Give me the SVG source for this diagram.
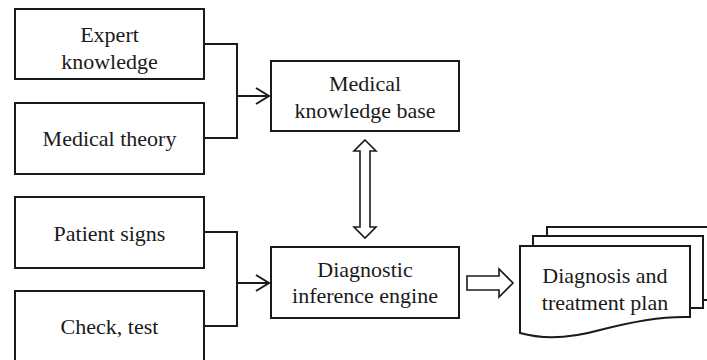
<svg xmlns="http://www.w3.org/2000/svg" width="707" height="360" viewBox="0 0 707 360">
<defs>
<style>
.box{fill:#fff;stroke:#1a1a1a;stroke-width:2}
.t{font-family:"Liberation Serif","Times New Roman",serif;font-size:22px;fill:#1a1a1a;text-anchor:middle}
.ln{fill:none;stroke:#1a1a1a;stroke-width:2}
.blk{fill:#fff;stroke:#1a1a1a;stroke-width:1.6;stroke-linejoin:miter}
</style>
<marker id="chev" markerWidth="16" markerHeight="18" refX="14" refY="9" orient="auto" markerUnits="userSpaceOnUse">
<polyline points="1,1 14,9 1,17" fill="none" stroke="#1a1a1a" stroke-width="2"/>
</marker>
</defs>
<rect width="707" height="360" fill="#fff"/>
<g id="connectors">
<path class="ln" d="M204,44 H237 V138 H204"/>
<path class="ln" d="M237,96 H269" marker-end="url(#chev)"/>
<path class="ln" d="M204,232 H237 V326 H204"/>
<path class="ln" d="M237,283 H269" marker-end="url(#chev)"/>
<polygon class="blk" points="365,140 376,151 370,151 370,227 376,227 365,238 354,227 360,227 360,151 354,151"/>
<polygon class="blk" points="467,276 499,276 499,269 513,283 499,297 499,290 467,290"/>
</g>
<g id="expert">
<rect class="box" x="15" y="9" width="189" height="70"/>
<text class="t" x="109.5" y="42">Expert</text>
<text class="t" x="109.5" y="69">knowledge</text>
</g>
<g id="theory">
<rect class="box" x="15" y="103" width="189" height="71"/>
<text class="t" x="109.5" y="146">Medical theory</text>
</g>
<g id="kb">
<rect class="box" x="271" y="61" width="188" height="70"/>
<text class="t" x="365" y="91">Medical</text>
<text class="t" x="365" y="118">knowledge base</text>
</g>
<g id="signs">
<rect class="box" x="15" y="197" width="189" height="71"/>
<text class="t" x="109.5" y="241">Patient signs</text>
</g>
<g id="check">
<rect class="box" x="15" y="291" width="189" height="72"/>
<text class="t" x="109.5" y="334">Check, test</text>
</g>
<g id="engine">
<rect class="box" x="271" y="247" width="188" height="71"/>
<text class="t" x="365" y="277">Diagnostic</text>
<text class="t" x="365" y="303">inference engine</text>
</g>
<g id="plan">
<path class="ln" d="M547,236 V227 H709 V300 H703"/>
<path class="ln" d="M533,246 V236 H703 V308 H690"/>
<path class="box" d="M520,246 H690 V317 C660,316 630,322 600,330 C575,337 545,340 520,333 Z"/>
<text class="t" x="605" y="283">Diagnosis and</text>
<text class="t" x="605" y="310">treatment plan</text>
</g>
</svg>
